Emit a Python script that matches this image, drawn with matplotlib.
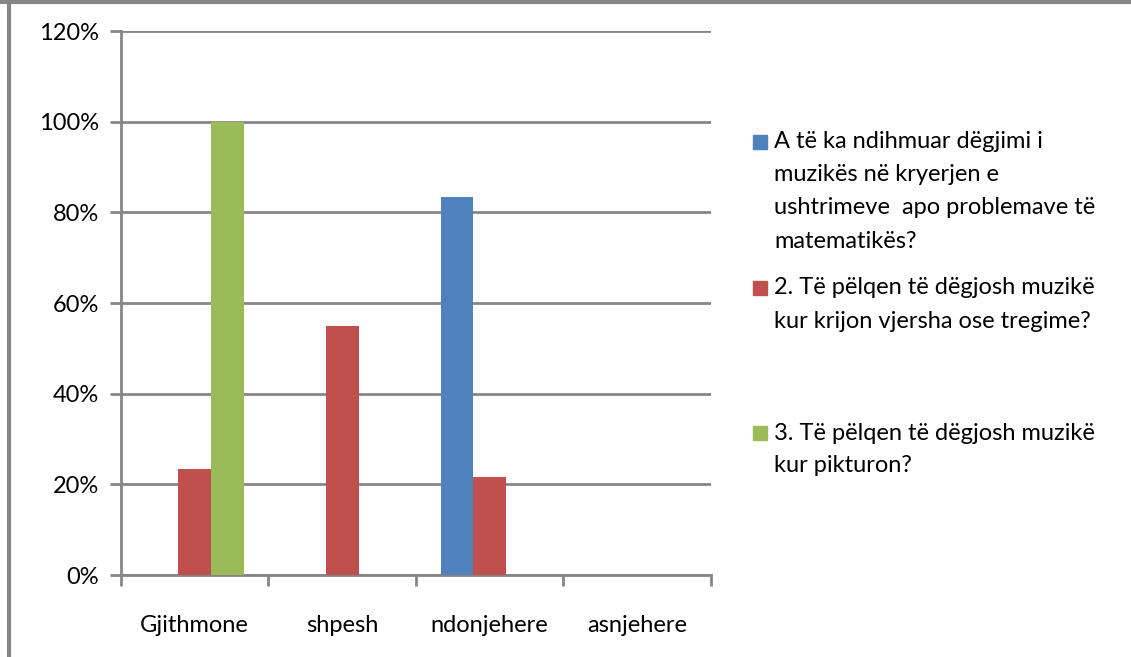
import matplotlib
matplotlib.use("Agg")
import matplotlib.pyplot as plt
import numpy as np
from matplotlib.patches import Rectangle
from matplotlib.lines import Line2D
from matplotlib.ticker import PercentFormatter

categories = ["Gjithmone", "shpesh", "ndonjehere", "asnjehere"]
series_names = [
    ["A të ka ndihmuar dëgjimi i", "muzikës në kryerjen e",
     "ushtrimeve  apo problemave të", "matematikës?"],
    ["2. Të pëlqen të dëgjosh muzikë", "kur krijon vjersha ose tregime?"],
    ["3. Të pëlqen të dëgjosh muzikë", "kur pikturon?"],
]
values_q1 = [0.0, 0.0, 0.833, 0.0]
values_q2 = [0.233, 0.55, 0.217, 0.0]
values_q3 = [1.0, 0.0, 0.0, 0.0]
colors = ["#4F81BD", "#C0504D", "#9BBB59"]
gray = "#868686"

plt.rcParams['font.family'] = ['Lato', 'DejaVu Sans']

fig = plt.figure(figsize=(11.31, 6.57), dpi=100)
ax = fig.add_axes([0.107, 0.1248, 0.5216, 0.828])

x = np.arange(len(categories))
w = 1 / 4.5
for i, vals in enumerate([values_q1, values_q2, values_q3]):
    ax.bar(x + (i - 1) * w, vals, width=w, color=colors[i], zorder=3)

ax.set_xlim(-0.5, len(categories) - 0.5)
ax.set_ylim(0, 1.2)
ax.set_yticks(np.arange(0, 1.21, 0.2))
ax.yaxis.set_major_formatter(PercentFormatter(1.0, decimals=0))
ax.grid(axis="y", color=gray, linewidth=2, zorder=1)

for s in ["top", "right"]:
    ax.spines[s].set_visible(False)
for s in ["left", "bottom"]:
    ax.spines[s].set_color(gray)
    ax.spines[s].set_linewidth(2)

ax.set_xticks(x)
ax.set_xticklabels(categories)
ax.set_xticks(np.arange(-0.5, len(categories), 1), minor=True)
ax.tick_params(axis="x", which="major", length=0, pad=29, labelsize=17)
ax.tick_params(axis="x", which="minor", length=8, width=2, color=gray)
ax.tick_params(axis="y", length=8, width=2, color=gray, labelsize=17, pad=8)

# legend drawn manually (Excel spacing)
W, H = 1131, 657
entry_tops = [142, 288, 433]
line_h = 33
for i, lines in enumerate(series_names):
    y0 = entry_tops[i]
    fig.patches.append(Rectangle((753 / W, 1 - (y0 + 7) / H), 14 / W, 14 / H,
                                 transform=fig.transFigure, color=colors[i]))
    for j, t in enumerate(lines):
        fig.text(774 / W, 1 - (y0 + j * line_h) / H, t, fontsize=17,
                 va="center", ha="left", color="black")

# frame on top and left edges
fig.lines.append(Line2D([0, 1], [1 - 1.5 / H, 1 - 1.5 / H], transform=fig.transFigure,
                        color=gray, linewidth=3))
fig.lines.append(Line2D([8.5 / W, 8.5 / W], [0, 1], transform=fig.transFigure,
                        color=gray, linewidth=3))

fig.savefig("out.png", dpi=100)
